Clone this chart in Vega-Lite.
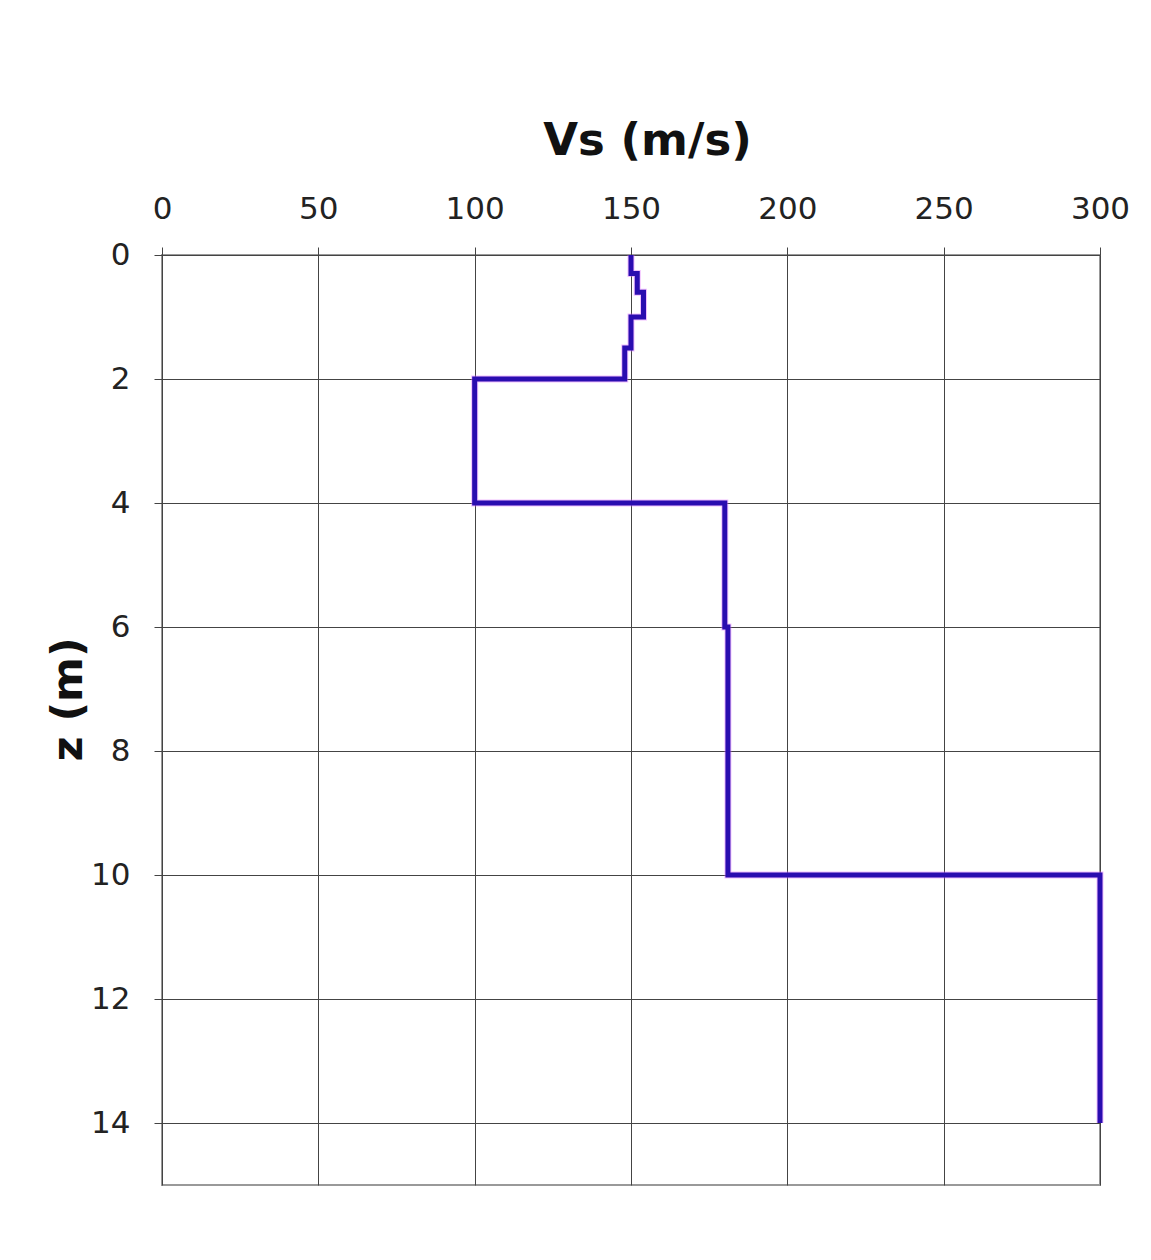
{
  "$schema": "https://vega.github.io/schema/vega-lite/v6.json",
  "width": 938,
  "height": 930,
  "autosize": {"type": "none"},
  "padding": {"left": 162, "top": 255, "right": 51, "bottom": 75},
  "background": "white",
  "config": {
    "view": {"stroke": "#999999", "strokeWidth": 2},
    "axis": {"labelFont": "DejaVu Sans", "titleFont": "DejaVu Sans", "labelColor": "#222", "titleColor": "#111", "gridColor": "#444", "gridOpacity": 1, "gridWidth": 1, "tickColor": "#444", "domain": false, "labelFlush": false}
  },
  "data": {"values": [
    {"i": 1, "z": 0, "vs": 150},
    {"i": 2, "z": 0.3, "vs": 150},
    {"i": 3, "z": 0.3, "vs": 152},
    {"i": 4, "z": 0.6, "vs": 152},
    {"i": 5, "z": 0.6, "vs": 154},
    {"i": 6, "z": 1.0, "vs": 154},
    {"i": 7, "z": 1.0, "vs": 150},
    {"i": 8, "z": 1.5, "vs": 150},
    {"i": 9, "z": 1.5, "vs": 148},
    {"i": 10, "z": 2, "vs": 148},
    {"i": 11, "z": 2, "vs": 100},
    {"i": 12, "z": 4, "vs": 100},
    {"i": 13, "z": 4, "vs": 180},
    {"i": 14, "z": 6, "vs": 180},
    {"i": 15, "z": 6, "vs": 181},
    {"i": 16, "z": 10, "vs": 181},
    {"i": 17, "z": 10, "vs": 300},
    {"i": 18, "z": 14, "vs": 300}
  ]},
  "layer": [
    {
      "mark": {"type": "line", "color": "#e070ff", "strokeWidth": 7, "strokeJoin": "miter", "opacity": 0.45},
      "encoding": {
        "x": {"field": "vs", "type": "quantitative"},
        "y": {"field": "z", "type": "quantitative"},
        "order": {"field": "i"}
      }
    },
    {
      "mark": {"type": "line", "color": "#2a0db0", "strokeWidth": 5, "strokeJoin": "miter"},
      "encoding": {
        "x": {"field": "vs", "type": "quantitative", "scale": {"domain": [0, 300], "nice": false},
          "axis": {"orient": "top", "values": [0, 50, 100, 150, 200, 250, 300], "title": "Vs (m/s)", "titleFontSize": 45, "titleFontWeight": "bold", "titlePadding": 30, "titleX": 485, "labelFontSize": 31, "labelPadding": 22, "tickSize": 8, "grid": true}},
        "y": {"field": "z", "type": "quantitative", "scale": {"domain": [0, 15], "reverse": true, "nice": false},
          "axis": {"values": [0, 2, 4, 6, 8, 10, 12, 14], "format": "d", "title": "z (m)", "titleFontSize": 43, "titleFontWeight": "bold", "titlePadding": 0, "titleY": 444, "labelFontSize": 31, "labelPadding": 24, "tickSize": 8, "grid": true}},
        "order": {"field": "i"}
      }
    }
  ]
}
